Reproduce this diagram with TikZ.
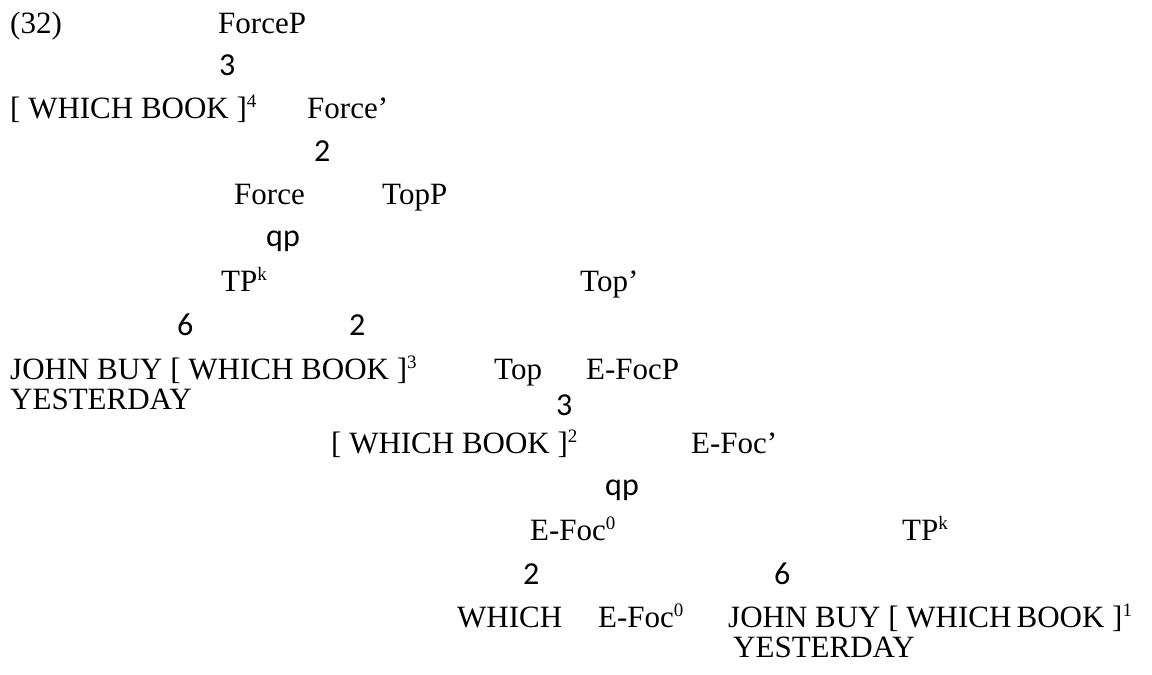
\documentclass[tikz,border=0pt]{standalone}
\usepackage{fontspec}
\setmainfont{Liberation Serif}
\newfontfamily\branchfont{Carlito}
\begin{document}
\begin{tikzpicture}[x=1pt,y=-1pt,
  lbl/.style={anchor=base west,inner sep=0pt,font=\fontsize{31}{36}\selectfont},
  br/.style={anchor=base west,inner sep=0pt,font=\branchfont\fontsize{32}{36}\selectfont}]
\useasboundingbox (0,0) rectangle (1152,675);
\newcommand{\sps}[1]{\raisebox{11pt}{\fontsize{19}{19}\selectfont #1}}
\node[lbl] (ex) at (10,33) {(32)};
\node[lbl] (forcep) at (218,33) {ForceP};
\node[br] (b1) at (219,75) {3};
\node[lbl] (wb4) at (10,118) {[ WHICH BOOK ]\sps{4}};
\node[lbl] (forcebar) at (307,118) {Force’};
\node[br] (b2) at (314,161) {2};
\node[lbl] (force) at (234,204) {Force};
\node[lbl] (topp) at (382,204) {TopP};
\node[br] (b3) at (266,246) {qp};
\node[lbl] (tpk1) at (221,291) {TP\sps{k}};
\node[lbl] (topbar) at (580,291) {Top’};
\node[br] (b4) at (177,335) {6};
\node[br] (b5) at (349,335) {2};
\node[lbl] (john1) at (10,379) {JOHN BUY [ WHICH BOOK ]\sps{3}};
\node[lbl] (yest1) at (10,409) {YESTERDAY};
\node[lbl] (top) at (494,379) {Top};
\node[lbl] (efocp) at (586,379) {E-FocP};
\node[br] (b6) at (556,415) {3};
\node[lbl] (wb2) at (331,453) {[ WHICH BOOK ]\sps{2}};
\node[lbl] (efocbar) at (691,453) {E-Foc’};
\node[br] (b7) at (605,495) {qp};
\node[lbl] (efoc0a) at (530,540) {E-Foc\sps{0}};
\node[lbl] (tpk2) at (902,540) {TP\sps{k}};
\node[br] (b8) at (523,584) {2};
\node[br] (b9) at (774,584) {6};
\node[lbl] (which) at (457,627) {WHICH};
\node[lbl] (efoc0b) at (598,627) {E-Foc\sps{0}};
\node[lbl] (john2) at (728,627) {JOHN BUY [ WHICH\,BOOK ]\sps{1}};
\node[lbl] (yest2) at (733,657) {YESTERDAY};
\end{tikzpicture}
\end{document}
